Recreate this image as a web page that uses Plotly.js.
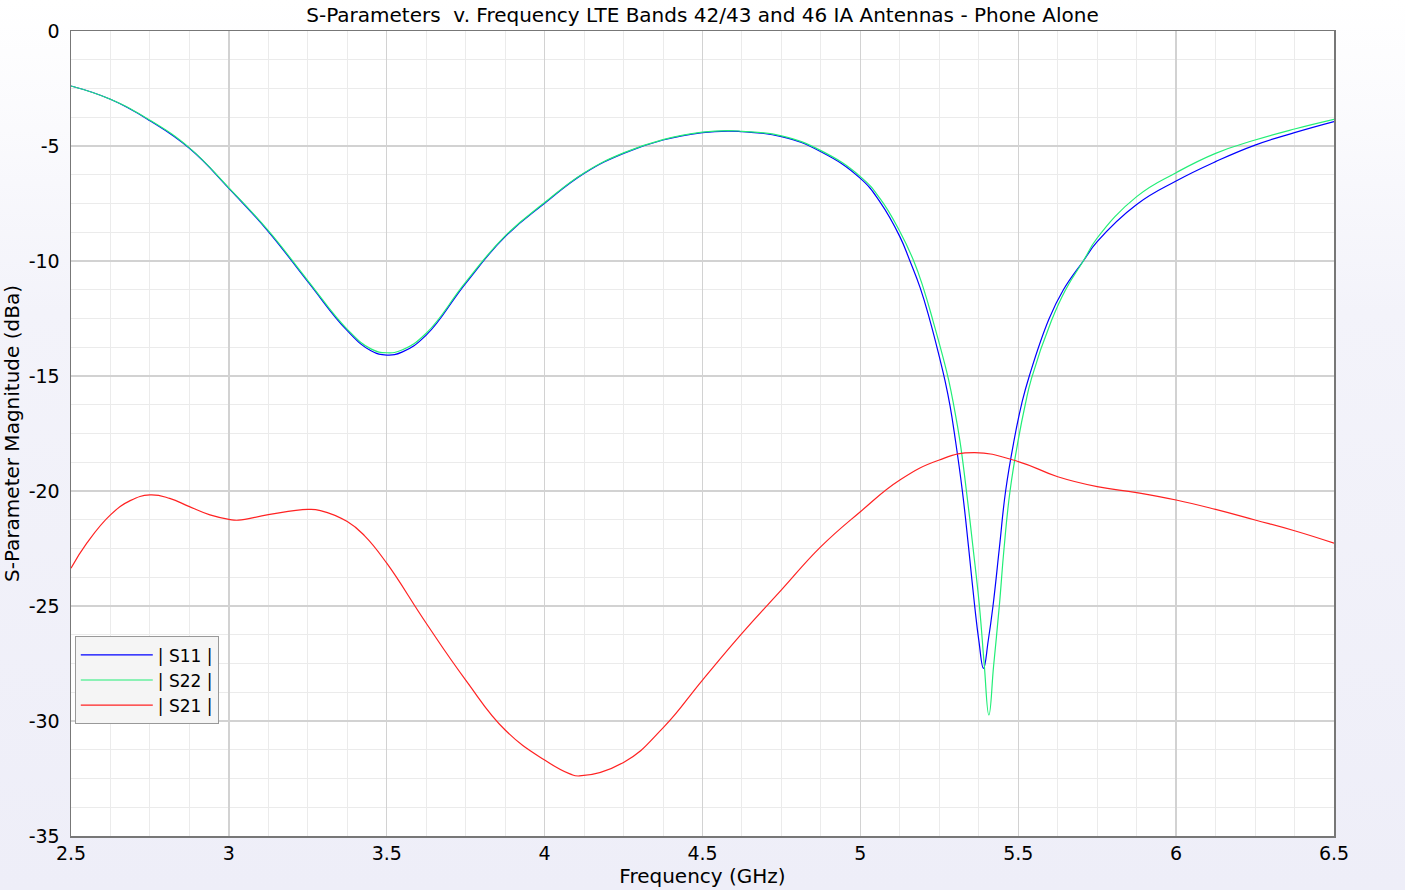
<!DOCTYPE html>
<html>
<head>
<meta charset="utf-8">
<script src="https://cdn.plot.ly/plotly-3.0.1.min.js"></script>
<style>
  html, body { margin: 0; padding: 0; }
  body { width: 1405px; height: 890px; background: linear-gradient(to bottom, #ffffff 0%, #f3f3fa 35%, #eeeef8 100%); }
  #chart { width: 1405px; height: 890px; }
</style>
</head>
<body>
<div id="chart"></div>
<script>
// Frequency (GHz) and magnitude (dB)
const freqS11 = [2.5, 2.625, 2.75, 2.875, 3.0, 3.125, 3.25, 3.375, 3.45, 3.5, 3.55, 3.625, 3.75, 3.875, 4.0, 4.125, 4.25, 4.375, 4.5, 4.58, 4.625, 4.75, 4.875, 5.0, 5.063, 5.125, 5.157, 5.19, 5.22, 5.25, 5.268, 5.284, 5.3, 5.323, 5.343, 5.362, 5.375, 5.39, 5.405, 5.42, 5.44, 5.46, 5.487, 5.511, 5.535, 5.598, 5.643, 5.706, 5.75, 5.875, 6.0, 6.125, 6.25, 6.375, 6.5];
const s11 = [-2.39, -2.97, -3.90, -5.10, -6.84, -8.72, -10.90, -13.03, -13.9, -14.09, -13.95, -13.22, -10.97, -8.94, -7.49, -6.19, -5.32, -4.74, -4.42, -4.35, -4.38, -4.59, -5.25, -6.41, -7.45, -8.94, -10.0, -11.19, -12.57, -14.16, -15.2, -16.3, -17.7, -20.0, -22.49, -25.0, -26.48, -27.71, -26.5, -25.0, -22.5, -20.0, -17.78, -16.2, -15.0, -12.5, -11.25, -10.0, -9.16, -7.54, -6.52, -5.68, -4.96, -4.42, -3.94];

const freqS22 = [2.5, 2.625, 2.75, 2.875, 3.0, 3.125, 3.25, 3.375, 3.45, 3.5, 3.55, 3.625, 3.75, 3.875, 4.0, 4.125, 4.25, 4.375, 4.5, 4.58, 4.625, 4.75, 4.875, 5.0, 5.063, 5.125, 5.169, 5.2, 5.23, 5.262, 5.28, 5.296, 5.315, 5.335, 5.357, 5.377, 5.392, 5.407, 5.422, 5.44, 5.455, 5.474, 5.5, 5.522, 5.542, 5.605, 5.65, 5.706, 5.75, 5.875, 6.0, 6.125, 6.25, 6.375, 6.5];
const s22 = [-2.39, -2.97, -3.88, -5.08, -6.82, -8.68, -10.85, -12.97, -13.82, -13.99, -13.86, -13.14, -10.92, -8.91, -7.46, -6.17, -5.30, -4.72, -4.40, -4.33, -4.36, -4.56, -5.20, -6.33, -7.3, -8.72, -10.0, -11.2, -12.6, -14.2, -15.2, -16.3, -17.8, -19.9, -22.49, -25.0, -27.5, -29.74, -27.6, -25.0, -22.5, -20.0, -17.78, -16.25, -15.1, -12.6, -11.25, -10.0, -9.0, -7.2, -6.16, -5.32, -4.74, -4.26, -3.84];

const freqS21 = [2.5, 2.55, 2.625, 2.6875, 2.75, 2.8125, 2.875, 2.94, 3.0, 3.03, 3.125, 3.25, 3.29, 3.375, 3.43, 3.5, 3.625, 3.75, 3.875, 4.0, 4.08, 4.11, 4.25, 4.375, 4.5, 4.625, 4.75, 4.875, 5.0, 5.125, 5.25, 5.36, 5.5, 5.625, 5.75, 5.875, 6.0, 6.125, 6.25, 6.375, 6.5];
const s21 = [-23.36, -22.27, -21.04, -20.42, -20.17, -20.32, -20.68, -21.04, -21.23, -21.27, -21.03, -20.80, -20.85, -21.33, -21.95, -23.14, -25.75, -28.22, -30.39, -31.7, -32.3, -32.39, -31.8, -30.3, -28.22, -26.19, -24.30, -22.42, -20.90, -19.52, -18.65, -18.33, -18.72, -19.38, -19.81, -20.07, -20.39, -20.80, -21.26, -21.73, -22.27];

const xTickVals = [2.5, 3, 3.5, 4, 4.5, 5, 5.5, 6, 6.5];
const xTickText = ['2.5', '3', '3.5', '4', '4.5', '5', '5.5', '6', '6.5'];
const yTickVals = [0, -5, -10, -15, -20, -25, -30, -35];
const yTickText = ['0', '-5', '-10', '-15', '-20', '-25', '-30', '-35'];

const seriesNames = ['| S11 |', '| S22 |', '| S21 |'];
const seriesColors = ['#0000ff', '#22ee77', '#ff2222'];

const FONT = '"DejaVu Sans", sans-serif';

const traces = [
  { x: freqS11, y: s11, name: seriesNames[0], color: seriesColors[0] },
  { x: freqS22, y: s22, name: seriesNames[1], color: seriesColors[1] },
  { x: freqS21, y: s21, name: seriesNames[2], color: seriesColors[2] }
].map(t => ({
  type: 'scatter', mode: 'lines', x: t.x, y: t.y, name: t.name,
  line: { color: t.color, width: 1.2, shape: 'spline', smoothing: 1.3 }
}));

const layout = {
  width: 1405, height: 890,
  margin: { l: 71, r: 71, t: 31, b: 54 },
  paper_bgcolor: 'rgba(0,0,0,0)',
  plot_bgcolor: '#ffffff',
  font: { family: FONT, size: 18, color: '#000' },
  title: { text: 'S-Parameters  v. Frequency LTE Bands 42/43 and 46 IA Antennas - Phone Alone',
           font: { family: FONT, size: 20, color: '#000' }, x: 0.5, xanchor: 'center', y: 0.983, yanchor: 'middle' },
  showlegend: true,
  legend: {
    x: 0.003, y: 0.248, xanchor: 'left', yanchor: 'top',
    bgcolor: '#f5f5f5', bordercolor: '#999999', borderwidth: 1,
    font: { family: FONT, size: 17, color: '#000' },
    itemwidth: 72, entrywidth: 150, tracegroupgap: 0
  },
  xaxis: {
    range: [2.5, 6.5], tickmode: 'array', tickvals: xTickVals, ticktext: xTickText,
    showgrid: true, gridcolor: '#d2d2d2', gridwidth: 1.4,
    minor: { tickmode: 'linear', tick0: 2.5, dtick: 0.125, showgrid: true, gridcolor: '#ebebeb', gridwidth: 1 },
    showline: true, linecolor: '#777777', linewidth: 1.5, mirror: true,
    zeroline: false, ticks: '',
    tickfont: { family: FONT, size: 19 },
    title: { text: 'Frequency (GHz)', font: { family: FONT, size: 20 }, standoff: 2 }
  },
  yaxis: {
    range: [-35, 0], tickmode: 'array', tickvals: yTickVals, ticktext: yTickText,
    showgrid: true, gridcolor: '#d2d2d2', gridwidth: 1.4,
    minor: { tickmode: 'linear', tick0: 0, dtick: 1.25, showgrid: true, gridcolor: '#ebebeb', gridwidth: 1 },
    showline: true, linecolor: '#777777', linewidth: 1.5, mirror: true,
    zeroline: false, ticks: '', ticklabelstandoff: 6,
    tickfont: { family: FONT, size: 19 },
    title: { text: 'S-Parameter Magnitude (dBa)', font: { family: FONT, size: 20 }, standoff: 10 }
  }
};

Plotly.newPlot('chart', traces, layout, { displayModeBar: false, staticPlot: true });
</script>
</body>
</html>
